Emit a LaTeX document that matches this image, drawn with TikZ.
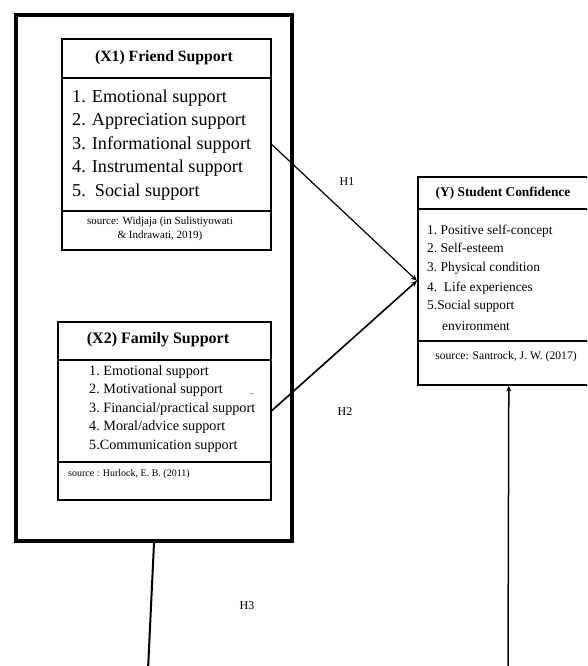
\documentclass[tikz,border=0pt]{standalone}
\usepackage{fontspec}
\setmainfont{Liberation Serif}
\usetikzlibrary{arrows.meta}
\begin{document}
\begin{tikzpicture}[x=1pt,y=-1pt,
  box/.style={draw, inner sep=0pt, anchor=north west, line width=1.6pt},
  item/.style={anchor=mid west, inner sep=0pt},
  ctext/.style={anchor=center, inner sep=0pt, align=center},
  lbl/.style={font=\fontsize{12}{14}\selectfont, inner sep=0pt},
  conn/.style={line width=1.2pt, -{Stealth[length=6pt,width=5pt]}}]
\useasboundingbox (0,0) rectangle (587,666);
\begin{scope}
\clip (0,0) rectangle (587,666);
% outer frame
\node[draw, line width=4pt, minimum width=276pt, minimum height=526pt, inner sep=0pt, anchor=north west] (outer) at (14,13) {};

% X1 box
\node[box, minimum width=209pt, minimum height=211pt] (x1) at (61,38) {};
\draw[line width=1.2pt] (61,78) -- (270,78);
\draw[line width=1.2pt] (61,211) -- (270,211);
\node[ctext, font=\bfseries\fontsize{15.7}{18}\selectfont] (x1t) at (164,58) {(X1) Friend Support};
\begin{scope}[every node/.style={item, font=\fontsize{18.2}{21}\selectfont}]
\node (x1a) at (72,100) {1. Emotional support};
\node (x1b) at (72,123.5) {2. Appreciation support};
\node (x1c) at (72,147) {3. Informational support};
\node (x1d) at (72,170.5) {4. Instrumental support};
\node (x1e) at (72,194) {5.\ \ Social support};
\end{scope}
\node[ctext, font=\fontsize{11}{14}\selectfont] (x1s) at (160,229) {source: Widjaja (in Sulistiyowati\\\& Indrawati, 2019)};

% X2 box
\node[box, minimum width=213pt, minimum height=178pt] (x2) at (57,321) {};
\draw[line width=1.2pt] (57,360) -- (270,360);
\draw[line width=1.2pt] (57,462) -- (270,462);
\node[ctext, font=\bfseries\fontsize{16}{19}\selectfont] (x2t) at (158,340) {(X2) Family Support};
\begin{scope}[every node/.style={item, font=\fontsize{14.2}{16}\selectfont}]
\node (x2a) at (89,373) {1.\ Emotional support};
\node (x2b) at (89,391.5) {2.\ Motivational support};
\node (x2c) at (89,410) {3.\ Financial/practical support};
\node (x2d) at (89,428.5) {4.\ Moral/advice support};
\node (x2e) at (89,447) {5.Communication support};
\end{scope}
\draw[gray!60, line width=0.6pt] (249,393) -- (254,393);
\node[item, font=\fontsize{10}{12}\selectfont] (x2s) at (68,474) {source : Hurlock, E. B. (2011)};

% Y box
\node[box, minimum width=182pt, minimum height=208pt] (y) at (417,176) {};
\draw[line width=1.2pt] (417,209) -- (599,209);
\draw[line width=1.2pt] (417,341) -- (599,341);
\node[ctext, font=\bfseries\fontsize{13.4}{16}\selectfont] (yt) at (503,193) {(Y) Student Confidence};
\begin{scope}[every node/.style={item, font=\fontsize{13.4}{15}\selectfont}]
\node (ya) at (427,232) {1.\ Positive self-concept};
\node (yb) at (427,250.5) {2.\ Self-esteem};
\node (yc) at (427,269.5) {3.\ Physical condition};
\node (yd) at (427,289) {4.\ \ Life experiences};
\node (ye) at (427,307.5) {5.Social support};
\node (yf) at (442,328) {environment};
\end{scope}
\node[ctext, font=\fontsize{11.6}{14}\selectfont] (ys) at (506,357) {source: Santrock, J. W. (2017)};

% connectors
\draw[conn] (x1.east) -- (y.west);
\draw[conn, line width=1.6pt] (x2.east) -- (y.west);
\coordinate (b1) at (148,670);
\draw[line width=2pt] (outer.south) -- (b1);
\coordinate (b2) at (508,670);
\draw[conn, line width=1.5pt] (b2) -- (y.south);

% labels
\node[lbl] (h1) at (347,182) {H1};
\node[lbl] (h2) at (345,412) {H2};
\node[lbl] (h3) at (247,606) {H3};
\end{scope}
\end{tikzpicture}
\end{document}
